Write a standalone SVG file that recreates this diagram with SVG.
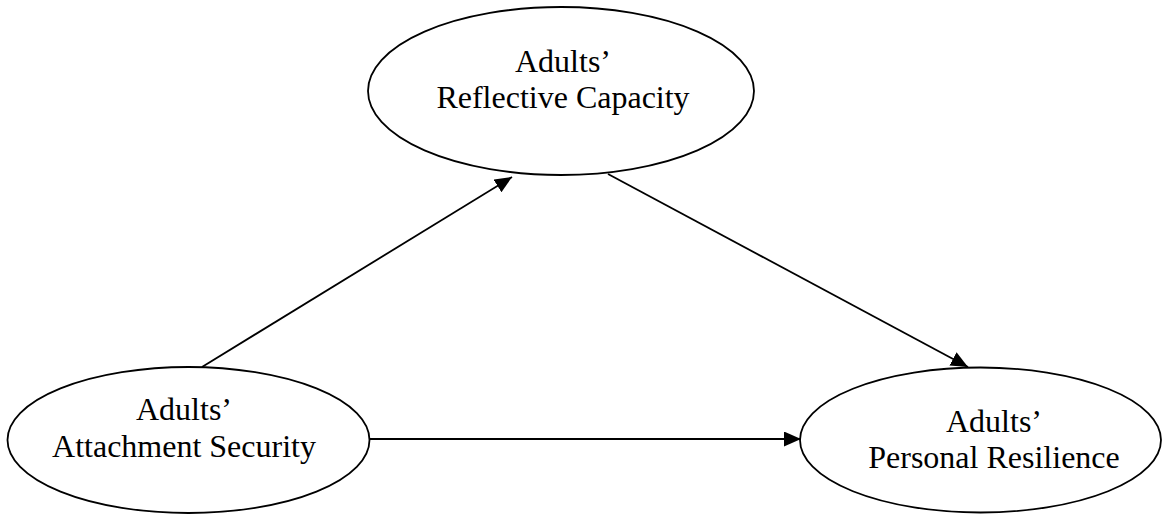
<svg xmlns="http://www.w3.org/2000/svg" width="1163" height="515" viewBox="0 0 1163 515">
<style>
.node{fill:#fff;stroke:#000;stroke-width:1.8}
.lbl{font-size:32px;fill:#000;text-anchor:middle}
.edge{stroke:#000;stroke-width:1.8;fill:none;marker-end:url(#arr)}
</style>
<defs>
<marker id="arr" markerUnits="userSpaceOnUse" markerWidth="20" markerHeight="16" refX="17" refY="7.5" orient="auto">
<path d="M0,0 L17,7.5 L0,15 Z" fill="#000"/>
</marker>
</defs>
<rect width="1163" height="515" fill="#fff"/>
<g id="reflective">
<ellipse class="node" cx="561" cy="91" rx="193" ry="84"/>
<text class="lbl" font-family="Liberation Serif, serif" x="563" y="72">Adults’</text>
<text class="lbl" font-family="Liberation Serif, serif" x="563" y="108">Reflective Capacity</text>
</g>
<g id="attachment">
<ellipse class="node" cx="188.5" cy="440" rx="181" ry="73"/>
<text class="lbl" font-family="Liberation Serif, serif" x="184" y="420">Adults’</text>
<text class="lbl" font-family="Liberation Serif, serif" x="184" y="457">Attachment Security</text>
</g>
<g id="resilience">
<ellipse class="node" cx="980.5" cy="440" rx="180.5" ry="72.5"/>
<text class="lbl" font-family="Liberation Serif, serif" x="994" y="432">Adults’</text>
<text class="lbl" font-family="Liberation Serif, serif" x="994" y="468">Personal Resilience</text>
</g>
<g id="connectors">
<line class="edge" x1="202" y1="367" x2="512" y2="177"/>
<line class="edge" x1="608" y1="174" x2="968" y2="367"/>
<line class="edge" x1="370" y1="439" x2="801" y2="439"/>
</g>
</svg>
